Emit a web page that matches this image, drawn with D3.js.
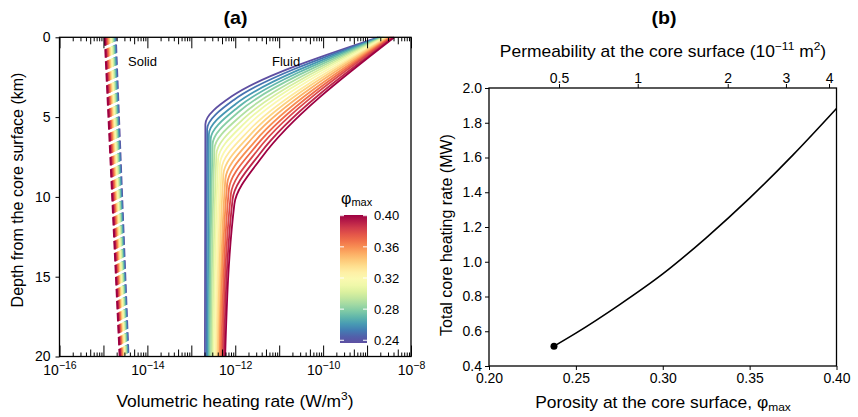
<!DOCTYPE html>
<html>
<head>
<meta charset="utf-8">
<script src="https://cdn.jsdelivr.net/npm/d3@7"></script>
<style>
  body { margin: 0; background: #fff; }
  svg, .axis { font-family: "Liberation Sans", Arial, sans-serif; }
  .axis text { font-size: 14px; fill: #000; }
  .axis line { stroke: #000; stroke-width: 1; }
  .axis path { display: none; }
  .frame { fill: none; stroke: #000; stroke-width: 1.3; }
</style>
</head>
<body>
<svg id="chart" width="858" height="417"></svg>
<script>
// ---- data ----
// porosity of each model run (colour key)
let phiValues = [0.24, 0.25, 0.26, 0.27, 0.28, 0.29, 0.30, 0.31, 0.32,
  0.33, 0.34, 0.35, 0.36, 0.37, 0.38, 0.39, 0.40];

// fluid heating, log10(W/m3) at the surface, a mid point, the knee and 20 km
let fluidTopQ = [-8.745, -8.72, -8.70, -8.68, -8.65, -8.63, -8.61, -8.59, -8.56,
  -8.54, -8.52, -8.49, -8.47, -8.45, -8.43, -8.40, -8.38];
let fluidMidDepth = [3.70, 3.94, 4.18, 4.41, 4.65, 4.89, 5.13, 5.36, 5.60,
  5.84, 6.08, 6.31, 6.55, 6.79, 7.03, 7.26, 7.50];
let fluidMidQ = [-12.08, -12.04, -11.99, -11.95, -11.91, -11.86, -11.82, -11.78, -11.74,
  -11.69, -11.65, -11.61, -11.56, -11.52, -11.48, -11.43, -11.39];
let fluidKneeDepth = [5.45, 5.76, 6.08, 6.39, 6.70, 7.01, 7.33, 7.64, 7.95,
  8.26, 8.58, 8.89, 9.20, 9.51, 9.83, 10.14, 10.45];
let fluidKneeQ = [-12.68, -12.64, -12.60, -12.56, -12.515, -12.475, -12.43, -12.39, -12.35,
  -12.31, -12.27, -12.225, -12.185, -12.145, -12.10, -12.06, -12.02];
let fluidBottomQ = [-12.69, -12.66, -12.63, -12.60, -12.58, -12.55, -12.52, -12.49, -12.46,
  -12.43, -12.40, -12.37, -12.35, -12.32, -12.29, -12.26, -12.23];

// solid heating, log10(W/m3) at the surface and at 20 km
let solidTopQ = [-14.72, -14.735, -14.75, -14.77, -14.78, -14.80, -14.81, -14.83, -14.845,
  -14.86, -14.875, -14.89, -14.91, -14.92, -14.94, -14.955, -14.97];
let solidBottomQ = [-14.43, -14.44, -14.455, -14.47, -14.48, -14.49, -14.505, -14.52, -14.53,
  -14.54, -14.555, -14.57, -14.58, -14.59, -14.605, -14.62, -14.63];

// panel b: total heating vs porosity
let porosity = [0.2374, 0.25, 0.275, 0.30, 0.325, 0.35, 0.375, 0.40];
let totalHeating = [0.514, 0.589, 0.752, 0.930, 1.138, 1.366, 1.615, 1.882];

// top axis of panel b: permeability labels and the porosity they sit at
let permLabels = ['0.5', '1', '2', '3', '4'];
let permAtPorosity = [0.2403, 0.2856, 0.3374, 0.3709, 0.3957];

// tick values
let decadeExps = [-16, -15, -14, -13, -12, -11, -10, -9, -8];
let depthTicks = [0, 5, 10, 15, 20];
let cbTicks = [0.24, 0.28, 0.32, 0.36, 0.40];
let porosityTicks = [0.20, 0.25, 0.30, 0.35, 0.40];
let heatTicks = [0.4, 0.6, 0.8, 1.0, 1.2, 1.4, 1.6, 1.8, 2.0];

const svg = d3.select('#chart');

let color = d3.scaleSequential(d3.interpolateSpectral).domain([0.40, 0.24]).clamp(true);

// horizontal titles in the figure are a little wider than the font
let stretch = 1.09;
let hText = (g, x, y, size) =>
  g.append('text')
    .attr('transform', `translate(${x},${y}) scale(${stretch},1)`)
    .attr('text-anchor', 'middle')
    .attr('font-size', size);

// ---------------- panel (a) ----------------
let xA = d3.scaleLog().domain([1e-16, 1e-8]).range([59.5, 411]);
let yA = d3.scaleLinear().domain([0, 20]).range([37.3, 356.5]);

let minorVals = [];
decadeExps.slice(0, -1).forEach((e) => {
  [2, 3, 4, 5, 6, 7, 8, 9].forEach((m) => minorVals.push({ m: m, v: m * 10 ** e }));
});
let fiveVals = minorVals.filter((d) => d.m === 5).map((d) => d.v);
let smallVals = minorVals.filter((d) => d.m !== 5).map((d) => d.v);
let majorVals = decadeExps.map((e) => 10 ** e);

let addLogTicks = (g, axisFn, size) => {
  g.append('g').call(axisFn(xA).tickValues(smallVals).tickSize(size[0]).tickFormat(''));
  g.append('g').call(axisFn(xA).tickValues(fiveVals).tickSize(size[1]).tickFormat(''));
};

const gA = svg.append('g');

// solid (dashed) lines
phiValues.forEach((phi, i) => {
  let pts = [{ depth: 0, q: solidTopQ[i] }, { depth: 20, q: solidBottomQ[i] }];
  gA.append('path')
    .datum(pts)
    .attr('fill', 'none')
    .attr('stroke', color(phi))
    .attr('stroke-width', 2)
    .attr('stroke-dasharray', '8.4,3.6')
    .attr('stroke-dashoffset', (phiValues.length - 1 - i) * 0.3)
    .attr('d', d3.line().x((d) => xA(10 ** d.q)).y((d) => yA(d.depth)));
});

// fluid lines
let fluidLine = d3.line()
  .x((d) => xA(10 ** d.q))
  .y((d) => yA(d.depth))
  .curve(d3.curveMonotoneY);

phiValues.forEach((phi, i) => {
  let pts = [
    { depth: 0, q: fluidTopQ[i] },
    { depth: fluidMidDepth[i], q: fluidMidQ[i] },
    { depth: fluidKneeDepth[i], q: fluidKneeQ[i] },
    { depth: 20, q: fluidBottomQ[i] },
  ];
  gA.append('path')
    .datum(pts)
    .attr('fill', 'none')
    .attr('stroke', color(phi))
    .attr('stroke-width', 1.8)
    .attr('d', fluidLine);
});

// bottom axis (ticks inward)
const xAxisA = gA.append('g').attr('class', 'axis').attr('transform', `translate(0,${yA(20)})`);
addLogTicks(xAxisA, d3.axisBottom, [-4, -7]);
xAxisA.append('g')
  .call(d3.axisBottom(xA).tickValues(majorVals).tickSize(-11).tickPadding(9).tickFormat(''))
  .selectAll('.tick text')
  .each(function (d) {
    let e = Math.round(Math.log10(d));
    if (e % 2 !== 0) return;
    let t = d3.select(this);
    t.text('10');
    t.append('tspan').attr('dy', '-0.6em').attr('font-size', '10.5px').text('\u2212' + Math.abs(e));
  });

// top axis (ticks inward)
const topAxisA = gA.append('g').attr('class', 'axis').attr('transform', `translate(0,${yA(0)})`);
addLogTicks(topAxisA, d3.axisTop, [-4, -7]);
topAxisA.append('g').call(d3.axisTop(xA).tickValues(majorVals).tickSize(-11).tickFormat(''));

// left axis
gA.append('g')
  .attr('class', 'axis')
  .attr('transform', `translate(${xA.range()[0]},0)`)
  .call(d3.axisLeft(yA).tickValues(depthTicks).tickSize(4).tickPadding(5));

gA.append('rect')
  .attr('class', 'frame')
  .attr('x', xA.range()[0])
  .attr('y', yA(0))
  .attr('width', xA.range()[1] - xA.range()[0])
  .attr('height', yA(20) - yA(0));

// line labels
gA.append('text').attr('x', 128).attr('y', 66).attr('font-size', 13).text('Solid');
gA.append('text').attr('x', 272).attr('y', 66).attr('font-size', 13).text('Fluid');

// colour bar
let cb = d3.scaleLinear().domain([0.2365, 0.4009]).range([343, 215]);
const defs = svg.append('defs');
const grad = defs.append('linearGradient')
  .attr('id', 'cbGrad')
  .attr('x1', 0).attr('y1', 1).attr('x2', 0).attr('y2', 0);
d3.range(0, 1.0001, 0.05).forEach((t) => {
  let v = cb.domain()[0] + t * (cb.domain()[1] - cb.domain()[0]);
  grad.append('stop').attr('offset', t).attr('stop-color', color(v));
});
gA.append('rect')
  .attr('x', 340).attr('y', cb(0.4009))
  .attr('width', 27).attr('height', cb(0.2365) - cb(0.4009))
  .attr('fill', 'url(#cbGrad)');
cbTicks.forEach((v) => {
  [[340, 344], [363, 367]].forEach((xx) => {
    gA.append('line')
      .attr('x1', xx[0]).attr('x2', xx[1])
      .attr('y1', cb(v)).attr('y2', cb(v))
      .attr('stroke', '#fff').attr('stroke-width', 1);
  });
});
const cbAxis = gA.append('g')
  .attr('class', 'axis')
  .attr('transform', 'translate(367,0)')
  .call(d3.axisRight(cb).tickValues(cbTicks).tickSize(0).tickPadding(7).tickFormat(d3.format('.2f')));
cbAxis.selectAll('text').style('font-size', '13px');
const cbTitle = gA.append('text').attr('x', 341).attr('y', 204).attr('font-size', 16).text('\u03c6');
cbTitle.append('tspan').attr('font-size', 11).attr('dy', 2).text('max');

// titles
hText(gA, 235.5, 24, 18).attr('font-weight', 'bold').text('(a)');
const xTitleA = hText(gA, 235, 407, 16).text('Volumetric heating rate (W/m');
xTitleA.append('tspan').attr('dy', -7).attr('font-size', 11).text('3');
xTitleA.append('tspan').attr('dy', 7).text(')');
gA.append('text')
  .attr('transform', 'translate(23,190) rotate(-90)')
  .attr('text-anchor', 'middle')
  .attr('font-size', 16)
  .text('Depth from the core surface (km)');

// ---------------- panel (b) ----------------
let xB = d3.scaleLinear().domain([0.2, 0.4]).range([489, 836.5]);
let yB = d3.scaleLinear().domain([0.4, 2.0]).range([366, 88]);
const gB = svg.append('g');

let heatData = porosity.map((p, i) => ({ p: p, h: totalHeating[i] }));
gB.append('path')
  .datum(heatData)
  .attr('fill', 'none')
  .attr('stroke', '#000')
  .attr('stroke-width', 1.6)
  .attr('d', d3.line().x((d) => xB(d.p)).y((d) => yB(d.h)).curve(d3.curveMonotoneX));
gB.append('circle')
  .attr('cx', xB(porosity[0]))
  .attr('cy', yB(totalHeating[0]))
  .attr('r', 3.5)
  .attr('fill', '#000');

gB.append('g')
  .attr('class', 'axis')
  .attr('transform', `translate(0,${yB(0.4)})`)
  .call(d3.axisBottom(xB).tickValues(porosityTicks).tickSize(4).tickPadding(3).tickFormat(d3.format('.2f')));
gB.append('g')
  .attr('class', 'axis')
  .attr('transform', `translate(${xB(0.2)},0)`)
  .call(d3.axisLeft(yB).tickValues(heatTicks).tickSize(4).tickPadding(3).tickFormat(d3.format('.1f')));
gB.append('g')
  .attr('class', 'axis')
  .attr('transform', `translate(0,${yB(2.0)})`)
  .call(d3.axisTop(xB).tickValues(permAtPorosity).tickSize(4).tickPadding(1)
    .tickFormat((d, i) => permLabels[i]));

gB.append('rect')
  .attr('class', 'frame')
  .attr('x', xB(0.2))
  .attr('y', yB(2.0))
  .attr('width', xB(0.4) - xB(0.2))
  .attr('height', yB(0.4) - yB(2.0));

hText(gB, 664, 24, 18).attr('font-weight', 'bold').text('(b)');

const topTitle = hText(gB, 663, 57, 16).text('Permeability at the core surface (10');
topTitle.append('tspan').attr('dy', -7).attr('font-size', 11).text('\u221211');
topTitle.append('tspan').attr('dy', 7).text(' m');
topTitle.append('tspan').attr('dy', -7).attr('font-size', 11).text('2');
topTitle.append('tspan').attr('dy', 7).text(')');

const xTitleB = hText(gB, 663, 408, 16).text('Porosity at the core surface, \u03c6');
xTitleB.append('tspan').attr('dy', 3).attr('font-size', 11).text('max');

gB.append('text')
  .attr('transform', 'translate(452,235) rotate(-90)')
  .attr('text-anchor', 'middle')
  .attr('font-size', 16)
  .text('Total core heating rate (MW)');
</script>
</body>
</html>
